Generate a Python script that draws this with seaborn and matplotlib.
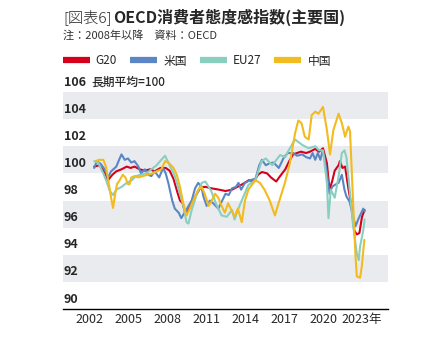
import numpy as np
import pandas as pd
import seaborn as sns
import matplotlib.pyplot as plt
from matplotlib.lines import Line2D

# values (index, long-term average = 100)
g20_year = [2002.4, 2002.8, 2003.2, 2003.46, 2003.8, 2004.1, 2004.5, 2004.9, 2005.2, 2005.5,
            2005.9, 2006.3, 2006.7, 2007.05, 2007.5, 2007.9, 2008.2, 2008.5, 2008.8, 2009.0,
            2009.2, 2009.4, 2009.6, 2009.9, 2010.3, 2010.6, 2011.0, 2011.4, 2012.0, 2012.5,
            2013.0, 2013.4, 2013.8, 2014.3, 2014.7, 2015.0, 2015.3, 2015.7, 2016.0, 2016.4,
            2016.7, 2017.1, 2017.4, 2017.7, 2018.0, 2018.3, 2018.7, 2019.0, 2019.4, 2019.7,
            2020.0, 2020.3, 2020.5, 2020.7, 2020.9, 2021.2, 2021.3, 2021.5, 2021.7, 2021.95,
            2022.2, 2022.4, 2022.6, 2022.8, 2023.0, 2023.2]
g20_val = [100.5, 100.6, 100.1, 99.5, 99.9, 100.15, 100.3, 100.5, 100.4, 100.5,
           100.3, 100.2, 100.3, 100.15, 100.4, 100.4, 100.2, 99.6, 98.6, 98.0,
           97.8, 97.1, 97.2, 97.8, 98.5, 99.0, 99.0, 98.9, 98.8, 98.7,
           98.8, 99.0, 99.2, 99.5, 99.4, 99.9, 100.1, 100.0, 99.7, 99.4,
           99.8, 100.3, 100.9, 101.4, 101.5, 101.6, 101.5, 101.6, 101.8, 101.6,
           101.85, 100.75, 98.8, 99.4, 100.2, 100.6, 100.9, 100.4, 100.5, 98.9,
           97.5, 95.8, 95.5, 95.6, 96.8, 97.3]

us_year = [2002.4, 2002.6, 2002.9, 2003.2, 2003.46, 2003.7, 2004.1, 2004.36, 2004.5, 2004.75,
           2005.0, 2005.25, 2005.5, 2005.8, 2006.0, 2006.3, 2006.55, 2006.8, 2007.05, 2007.4,
           2007.7, 2007.9, 2008.1, 2008.4, 2008.6, 2008.9, 2009.1, 2009.35, 2009.6, 2009.9,
           2010.16, 2010.4, 2010.65, 2010.8, 2011.05, 2011.3, 2011.55, 2011.95, 2012.2, 2012.5,
           2012.75, 2013.0, 2013.3, 2013.5, 2013.7, 2014.0, 2014.4, 2014.8, 2015.1, 2015.3,
           2015.6, 2015.9, 2016.2, 2016.6, 2017.0, 2017.3, 2017.7, 2018.0, 2018.4, 2018.7,
           2019.0, 2019.2, 2019.4, 2019.6, 2019.8, 2019.95, 2020.1, 2020.3, 2020.5, 2020.7,
           2020.9, 2021.2, 2021.45, 2021.65, 2021.8, 2022.05, 2022.2, 2022.5, 2022.75, 2023.0,
           2023.1, 2023.2]
us_val = [100.4, 100.9, 100.7, 100.3, 99.7, 100.15, 100.5, 101.1, 101.4, 101.0,
          101.1, 100.8, 100.9, 100.5, 100.0, 100.3, 99.9, 99.8, 100.15, 99.7,
          100.4, 100.0, 99.3, 98.0, 97.4, 97.1, 96.7, 97.1, 97.5, 98.0,
          98.9, 99.3, 99.0, 98.3, 97.6, 98.0, 97.8, 97.4, 97.9, 98.5,
          98.4, 98.9, 99.0, 99.3, 98.8, 99.3, 99.5, 99.6, 100.6, 101.0,
          100.6, 100.75, 100.8, 100.4, 101.2, 101.5, 101.5, 101.3, 101.4, 101.2,
          101.1, 101.5, 101.0, 101.5, 101.0, 101.6, 101.2, 100.0, 98.5, 99.0,
          99.15, 99.3, 99.9, 98.8, 98.3, 97.9, 97.3, 96.1, 96.7, 97.2,
          97.4, 97.2]

eu_year = [2002.4, 2002.7, 2003.1, 2003.35, 2003.6, 2003.85, 2004.1, 2004.5, 2004.9, 2005.3,
           2005.6, 2006.0, 2006.4, 2006.8, 2007.2, 2007.56, 2007.85, 2008.2, 2008.6, 2009.0,
           2009.26, 2009.5, 2009.65, 2009.9, 2010.3, 2010.67, 2010.95, 2011.4, 2011.8, 2012.2,
           2012.6, 2013.0, 2013.2, 2013.45, 2013.75, 2014.26, 2014.8, 2015.28, 2015.6, 2016.1,
           2016.7, 2017.1, 2017.3, 2017.85, 2018.4, 2018.9, 2019.4, 2019.7, 2020.0, 2020.3,
           2020.42, 2020.6, 2020.9, 2021.2, 2021.45, 2021.65, 2021.8, 2022.05, 2022.3, 2022.6,
           2022.75, 2022.85, 2023.1, 2023.2]
eu_val = [100.9, 100.8, 100.0, 99.4, 98.7, 98.4, 98.8, 99.0, 99.3, 99.5,
          99.8, 99.9, 100.0, 100.3, 100.6, 101.0, 101.3, 100.6, 99.8, 98.5,
          97.6, 96.4, 96.3, 97.3, 98.5, 99.3, 99.4, 98.7, 97.7, 96.9,
          96.8, 97.3, 96.6, 97.3, 98.0, 99.15, 99.5, 100.9, 101.1, 100.6,
          101.35, 101.2, 101.6, 102.5, 102.1, 101.85, 102.0, 101.7, 101.7, 99.3,
          96.7, 98.8, 98.2, 99.8, 101.5, 101.7, 101.2, 98.8, 96.3, 94.1,
          93.6, 94.6, 95.8, 96.6]

cn_year = [2002.5, 2002.8, 2003.1, 2003.3, 2003.5, 2003.7, 2003.85, 2004.0, 2004.15, 2004.36,
           2004.6, 2004.8, 2005.0, 2005.12, 2005.25, 2005.5, 2005.8, 2006.15, 2006.5, 2006.9,
           2007.2, 2007.56, 2007.85, 2008.1, 2008.5, 2008.75, 2009.0, 2009.25, 2009.5, 2009.75,
           2010.16, 2010.4, 2010.67, 2010.9, 2011.2, 2011.45, 2011.7, 2011.95, 2012.2, 2012.45,
           2012.7, 2012.95, 2013.2, 2013.45, 2013.75, 2014.0, 2014.26, 2014.8, 2015.15, 2015.5,
           2015.9, 2016.3, 2016.55, 2017.07, 2017.45, 2017.85, 2018.1, 2018.35, 2018.6, 2018.9,
           2019.13, 2019.4, 2019.65, 2020.0, 2020.3, 2020.54, 2020.8, 2021.2, 2021.45, 2021.7,
           2021.95, 2022.08, 2022.34, 2022.5, 2022.6, 2022.85, 2022.98, 2023.18]
cn_val = [100.9, 101.0, 101.0, 100.5, 99.4, 98.2, 97.45, 98.4, 99.2, 99.5,
          99.9, 99.7, 99.2, 99.2, 99.7, 99.8, 99.7, 99.8, 99.9, 100.0,
          100.15, 100.3, 100.9, 100.8, 100.4, 99.9, 99.0, 97.8, 96.9, 97.4,
          98.3, 98.8, 99.0, 98.5, 97.6, 98.0, 98.5, 98.2, 97.6, 97.1,
          97.8, 97.3, 96.8, 97.4, 96.4, 98.0, 98.8, 99.5, 99.3, 98.8,
          98.0, 96.9, 97.7, 99.3, 100.75, 102.95, 103.9, 103.7, 102.7, 102.5,
          104.3, 104.55, 104.4, 104.9, 103.2, 101.4, 103.2, 104.4, 103.7, 102.7,
          103.45, 103.1, 97.3, 93.9, 92.4, 92.3, 93.1, 95.1]

series_names = ["G20", "米国", "EU27", "中国"]
series_colors = ["#d6001c", "#5b86c5", "#89cfc0", "#f2bb1e"]
x_ticks = [2002, 2005, 2008, 2011, 2014, 2017, 2020, 2023]
x_labels = ["2002", "2005", "2008", "2011", "2014", "2017", "2020", "2023年"]
y_ticks = [90, 92, 94, 96, 98, 100, 102, 104, 106]

frames = []
for name, yr, val in [("G20", g20_year, g20_val), ("米国", us_year, us_val),
                      ("EU27", eu_year, eu_val), ("中国", cn_year, cn_val)]:
    frames.append(pd.DataFrame({"year": yr, "value": val, "series": name}))
df = pd.concat(frames, ignore_index=True)

sns.set_style("white")
plt.rcParams['font.family'] = ['Noto Sans CJK JP', 'DejaVu Sans']

fig = plt.figure(figsize=(4.47, 3.5), dpi=100)
ax = fig.add_axes([63 / 447, 1 - 309 / 350, 325 / 447, 217 / 350])

for lo in [92, 96, 100, 104]:
    ax.axhspan(lo, lo + 2, color="#e9ebee", lw=0, zorder=0)

sns.lineplot(data=df, x="year", y="value", hue="series", hue_order=series_names,
             palette=series_colors, sort=False, estimator=None, lw=1.5, ax=ax, legend=False)

ax.set_xlim(2000, 2025)
ax.set_ylim(90, 106)
ax.set_xticks(x_ticks)
ax.set_xticklabels(x_labels, fontsize=9)
ax.set_yticks([])
ax.set_xlabel("")
ax.set_ylabel("")
ax.tick_params(axis="x", length=0, pad=3)
for s in ["top", "right", "left"]:
    ax.spines[s].set_visible(False)
ax.spines["bottom"].set_color("black")
ax.spines["bottom"].set_linewidth(1.0)

for v in y_ticks:
    ax.text(2000.05, v + 0.25, str(v), fontsize=9, fontweight="bold", va="bottom", ha="left")
ax.text(2002.2, 106.25, "長期平均=100", fontsize=8.5, fontweight="medium", va="bottom", ha="left")

# title
t1 = fig.text(63 / 447, 1 - 17 / 350, "[図表6]", fontsize=11, fontweight="light", va="center")
fig.canvas.draw()
bb = t1.get_window_extent(fig.canvas.get_renderer())
fig.text(bb.x1 / fig.bbox.width + 0.003, 1 - 17 / 350, "OECD消費者態度感指数(主要国)",
         fontsize=11.5, fontweight="bold", va="center")
fig.text(63 / 447, 1 - 35 / 350, "注：2008年以降　資料：OECD", fontsize=8, va="center",
         color="#333333")

handles = [Line2D([], [], color=c, lw=4.5, solid_capstyle="butt") for c in series_colors]
fig.legend(handles, series_names, loc="center left", bbox_to_anchor=(58 / 447, 1 - 61 / 350),
           ncol=4, frameon=False, fontsize=8.5, handlelength=2.3, handletextpad=0.5,
           columnspacing=1.1, borderaxespad=0)

plt.savefig("out.png", dpi=100)
